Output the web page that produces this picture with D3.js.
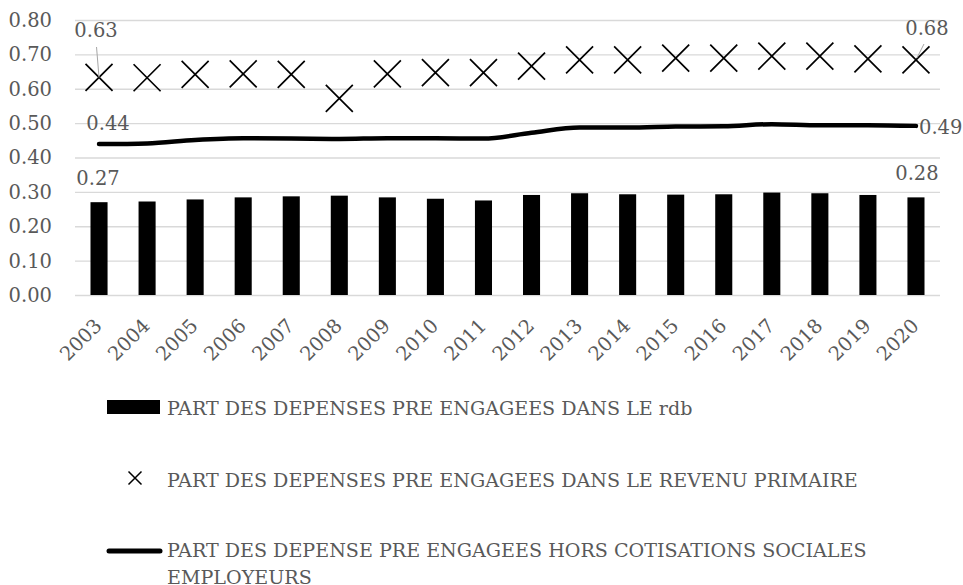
<!DOCTYPE html>
<html>
<head>
<meta charset="utf-8">
<script src="https://cdn.jsdelivr.net/npm/d3@7"></script>
<style>
  body { margin: 0; background: #fff; }
  svg { display: block; font-family: "DejaVu Serif", "Liberation Serif", serif; }
  .axis text { fill: #595959; font-size: 19.5px; font-family: "DejaVu Serif", "Liberation Serif", serif; }
  .grid line { stroke: #d9d9d9; stroke-width: 1.3; }
  .lbl { fill: #595959; font-size: 19.1px; }
  .num { fill: #595959; font-size: 19.5px; }
</style>
</head>
<body>
<script>
///////////////////   Data   /////////////////

var years = ["2003","2004","2005","2006","2007","2008","2009","2010","2011",
             "2012","2013","2014","2015","2016","2017","2018","2019","2020"];

// part des depenses pre engagees dans le rdb (bars)
var partRdb = [0.270, 0.272, 0.278, 0.284, 0.287, 0.289, 0.284, 0.280, 0.275,
               0.291, 0.296, 0.293, 0.292, 0.293, 0.298, 0.296, 0.291, 0.284];

// part dans le revenu primaire (x markers)
var partRevenuPrimaire = [0.633, 0.632, 0.642, 0.643, 0.642, 0.572, 0.643, 0.647, 0.647,
                          0.666, 0.684, 0.684, 0.689, 0.689, 0.695, 0.695, 0.687, 0.684];

// hors cotisations sociales employeurs (line)
var partHorsCotisations = [0.439, 0.441, 0.451, 0.456, 0.455, 0.454, 0.456, 0.456, 0.455,
                           0.472, 0.487, 0.487, 0.490, 0.491, 0.497, 0.494, 0.494, 0.492];

var yTicks = [0, 0.1, 0.2, 0.3, 0.4, 0.5, 0.6, 0.7, 0.8];

var legendLabels = [
  "PART DES DEPENSES PRE ENGAGEES DANS LE rdb",
  "PART DES DEPENSES PRE ENGAGEES DANS LE REVENU PRIMAIRE",
  ["PART DES DEPENSE PRE ENGAGEES HORS COTISATIONS SOCIALES", "EMPLOYEURS"]
];

///////////////////   Layout   /////////////////

var W = 963, H = 585,
    plotLeft = 75, plotRight = 940,
    plotTop = 20, plotBottom = 295,
    crossHalf = 13.5;

var svg = d3.select("body").append("svg")
    .attr("width", W)
    .attr("height", H);

var x = d3.scaleBand()
    .domain(years)
    .range([plotLeft, plotRight])
    .paddingInner(0.645)
    .paddingOuter(0.3225);

var y = d3.scaleLinear()
    .domain([0, 0.8])
    .range([plotBottom, plotTop]);

function cx(i) { return x(years[i]) + x.bandwidth() / 2; }

// gridlines + y labels
var yAxis = svg.append("g")
    .attr("class", "axis grid")
    .attr("transform", "translate(" + plotLeft + ",0)")
    .call(d3.axisLeft(y)
        .tickValues(yTicks)
        .tickFormat(d3.format(".2f"))
        .tickSize(-(plotRight - plotLeft))
        .tickPadding(23));
yAxis.select(".domain").remove();
yAxis.selectAll("text").attr("dy", "0.33em");

// x labels, rotated
var xAxis = svg.append("g")
    .attr("class", "axis")
    .attr("transform", "translate(0," + plotBottom + ")")
    .call(d3.axisBottom(x).tickSize(0));
xAxis.select(".domain").remove();
xAxis.selectAll("text")
    .attr("text-anchor", "end")
    .attr("dy", null)
    .attr("y", null)
    .attr("transform", "translate(4,32) rotate(-45)");

// bars
svg.append("g").selectAll("rect")
    .data(partRdb)
  .enter().append("rect")
    .attr("x", function(d, i) { return x(years[i]); })
    .attr("y", function(d) { return y(d); })
    .attr("width", x.bandwidth())
    .attr("height", function(d) { return plotBottom - y(d); })
    .attr("fill", "#000");

// line
var line = d3.line()
    .x(function(d, i) { return cx(i); })
    .y(function(d) { return y(d); })
    .curve(d3.curveMonotoneX);

svg.append("path")
    .datum(partHorsCotisations)
    .attr("d", line)
    .attr("fill", "none")
    .attr("stroke", "#000")
    .attr("stroke-width", 4.5)
    .attr("stroke-linecap", "round");

// x markers
function crossPath(s) {
  return "M" + (-s) + "," + (-s) + "L" + s + "," + s + "M" + (-s) + "," + s + "L" + s + "," + (-s);
}

svg.append("g").selectAll("path")
    .data(partRevenuPrimaire)
  .enter().append("path")
    .attr("transform", function(d, i) { return "translate(" + cx(i) + "," + y(d) + ")"; })
    .attr("d", crossPath(crossHalf))
    .attr("fill", "none")
    .attr("stroke", "#000")
    .attr("stroke-width", 1.7);

// data labels (first and last points of each series)
var last = years.length - 1;
var f2 = d3.format(".2f");
function trunc2(v) { return f2(Math.round(v * 100) / 100); }

// leader lines for the cross labels
svg.append("line")
    .attr("x1", cx(0) - 2.5).attr("y1", 47)
    .attr("x2", cx(0)).attr("y2", y(partRevenuPrimaire[0]))
    .attr("stroke", "#a6a6a6").attr("stroke-width", 1);
svg.append("line")
    .attr("x1", cx(last) + 8).attr("y1", 44)
    .attr("x2", cx(last) + 1).attr("y2", y(partRevenuPrimaire[last]) - 2)
    .attr("stroke", "#a6a6a6").attr("stroke-width", 1);

var labels = [
  { t: trunc2(partRevenuPrimaire[0]), x: cx(0) - 3, y: 37, a: "middle" },
  { t: trunc2(partRevenuPrimaire[last]), x: cx(last) + 11, y: 35, a: "middle" },
  { t: trunc2(partHorsCotisations[0]), x: cx(0) + 9, y: 130, a: "middle" },
  { t: trunc2(partHorsCotisations[last]), x: cx(last) + 3, y: y(partHorsCotisations[last]) + 8, a: "start" },
  { t: trunc2(partRdb[0]), x: cx(0) - 1, y: 185, a: "middle" },
  { t: trunc2(partRdb[last]), x: cx(last) + 1, y: 180, a: "middle" }
];

svg.append("g").selectAll("text")
    .data(labels)
  .enter().append("text")
    .attr("class", "num")
    .attr("x", function(d) { return d.x; })
    .attr("y", function(d) { return d.y; })
    .attr("text-anchor", function(d) { return d.a; })
    .text(function(d) { return d.t; });

///////////////////   Legend   /////////////////

var lg = svg.append("g");

lg.append("rect")
    .attr("x", 107).attr("y", 400)
    .attr("width", 53).attr("height", 14)
    .attr("fill", "#000");
lg.append("text").attr("class", "lbl")
    .attr("x", 167).attr("y", 415)
    .text(legendLabels[0]);

lg.append("path")
    .attr("transform", "translate(135,478)")
    .attr("d", crossPath(6.5))
    .attr("fill", "none")
    .attr("stroke", "#000")
    .attr("stroke-width", 1.5);
lg.append("text").attr("class", "lbl")
    .attr("x", 167).attr("y", 487)
    .text(legendLabels[1]);

lg.append("line")
    .attr("x1", 109).attr("y1", 551)
    .attr("x2", 160).attr("y2", 551)
    .attr("stroke", "#000")
    .attr("stroke-width", 5)
    .attr("stroke-linecap", "round");
lg.append("text").attr("class", "lbl")
    .selectAll("tspan")
    .data(legendLabels[2])
  .enter().append("tspan")
    .attr("x", 167)
    .attr("y", function(d, i) { return 557 + i * 27; })
    .text(function(d) { return d; });
</script>
</body>
</html>
